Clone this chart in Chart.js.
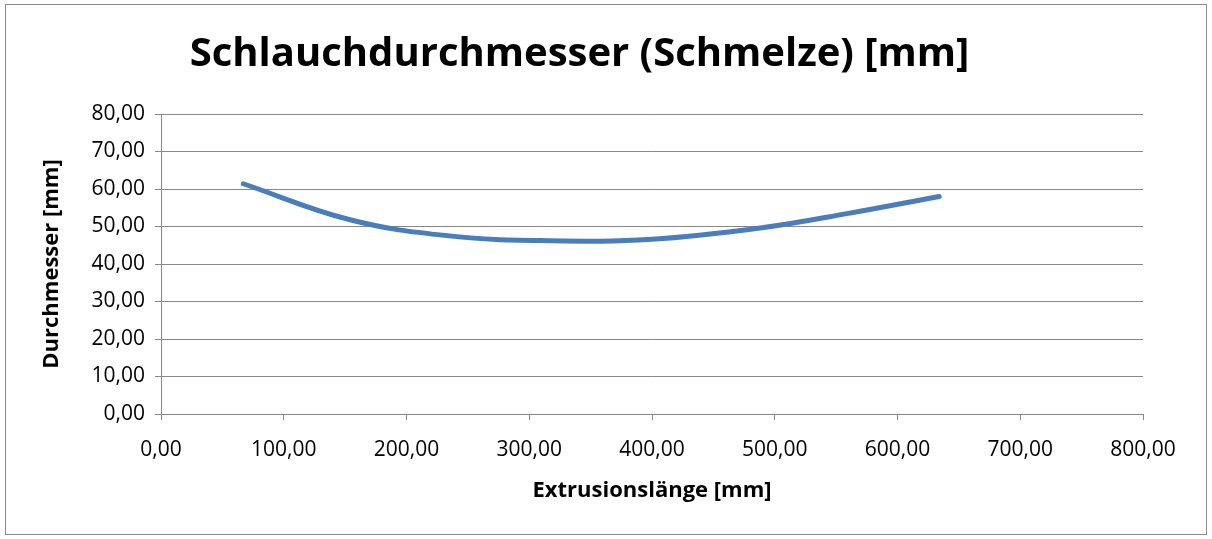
<!DOCTYPE html>
<html lang="de">
<head>
  <meta charset="UTF-8">
  <title>Schlauchdurchmesser (Schmelze)</title>
  <style>
    body {
      margin: 0;
      padding: 0;
      background: #ffffff;
    }
    .frame {
      position: absolute;
      left: 5px;
      top: 4px;
      width: 1200px;
      height: 529px;
      border: 1px solid #8c8c8c;
    }
  </style>
</head>
<body>
  <div class="frame">
    <canvas id="chart" width="1200" height="529"></canvas>
  </div>

  <script src="https://cdn.jsdelivr.net/npm/chart.js"></script>
  <script>
    const extrusionLength = [67, 154, 235, 317, 400, 488, 560, 634];
    const diameter = [61.4, 51.8, 47.5, 46.2, 46.6, 49.6, 53.5, 58.0];

    const xTicks = { min: 0, max: 800, step: 100 };
    const yTicks = { min: 0, max: 80, step: 10 };

    const fontFamily = "'Open Sans', 'Liberation Sans', sans-serif";
    const gridColor = '#878787';

    // Excel-style number format: two decimals, comma separator
    const fmt = (v) => Number(v).toFixed(2).replace('.', ',');

    const points = extrusionLength.map((x, i) => ({ x: x, y: diameter[i] }));

    const ctx = document.getElementById('chart').getContext('2d');
    new Chart(ctx, {
      type: 'scatter',
      data: {
        datasets: [{
          data: points,
          showLine: true,
          borderColor: '#4a7ebb',
          borderWidth: 5,
          borderCapStyle: 'round',
          pointRadius: 0,
          tension: 0.4
        }]
      },
      options: {
        responsive: false,
        animation: false,
        layout: { padding: { left: 10, right: 63, top: 0, bottom: 10 } },
        plugins: {
          legend: { display: false },
          tooltip: { enabled: false },
          title: {
            display: true,
            text: 'Schlauchdurchmesser (Schmelze) [mm]',
            color: '#000000',
            font: { family: fontFamily, size: 40, weight: 'bold', lineHeight: 1.2 },
            padding: { top: 26, bottom: 35 }
          }
        },
        scales: {
          x: {
            type: 'linear',
            min: xTicks.min,
            max: xTicks.max,
            afterFit: (scale) => { scale.height = 110; },
            ticks: {
              stepSize: xTicks.step,
              color: '#000000',
              padding: 17,
              maxRotation: 0,
              font: { family: fontFamily, size: 21 },
              callback: fmt
            },
            grid: {
              drawOnChartArea: false,
              drawTicks: true,
              tickLength: 6,
              color: gridColor
            },
            border: { display: true, color: gridColor, width: 1 },
            title: {
              display: true,
              text: 'Extrusionslänge [mm]',
              color: '#000000',
              font: { family: fontFamily, size: 22, weight: 'bold', lineHeight: 1.2 },
              padding: { top: 0, bottom: 20 }
            }
          },
          y: {
            type: 'linear',
            min: yTicks.min,
            max: yTicks.max,
            afterFit: (scale) => { scale.width = 145; },
            ticks: {
              stepSize: yTicks.step,
              color: '#000000',
              padding: 10,
              font: { family: fontFamily, size: 21 },
              callback: fmt
            },
            grid: {
              drawTicks: true,
              tickLength: 6,
              color: gridColor,
              lineWidth: 1
            },
            border: { display: true, color: gridColor, width: 1 },
            title: {
              display: true,
              text: 'Durchmesser [mm]',
              color: '#000000',
              font: { family: fontFamily, size: 22, weight: 'bold', lineHeight: 1.2 },
              padding: { top: 23, bottom: 0 }
            }
          }
        }
      }
    });
  </script>
</body>
</html>
